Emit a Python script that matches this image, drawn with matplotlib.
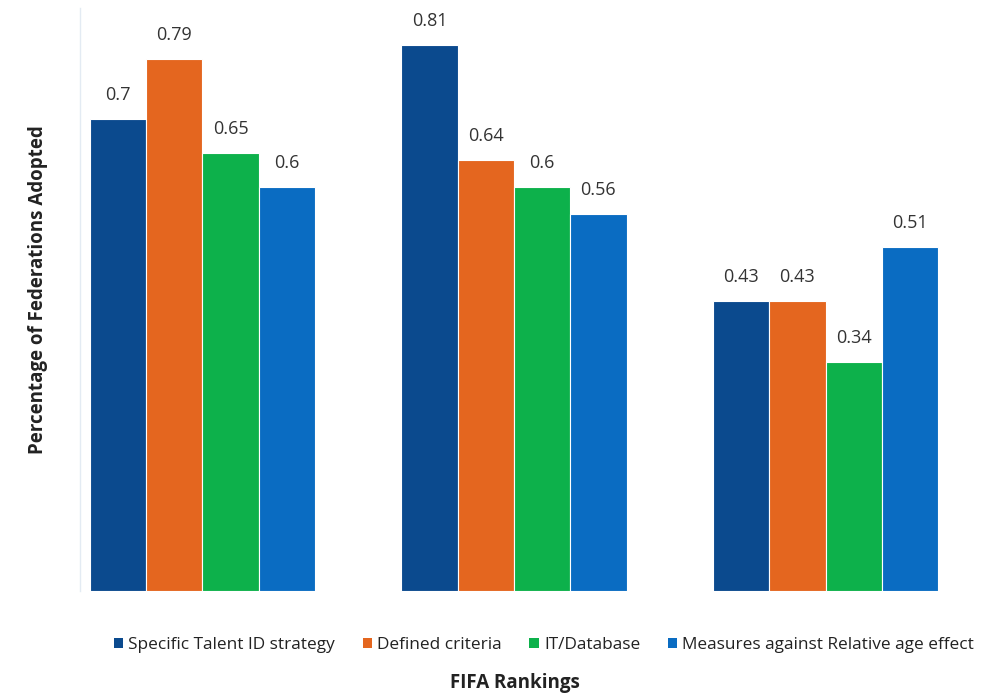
import matplotlib
matplotlib.use("Agg")
import matplotlib.pyplot as plt
import numpy as np

groups = ["Group 1", "Group 2", "Group 3"]
series = ["Specific Talent ID strategy", "Defined criteria", "IT/Database",
          "Measures against Relative age effect"]
values = {
    "Specific Talent ID strategy": [0.70, 0.81, 0.43],
    "Defined criteria": [0.79, 0.64, 0.43],
    "IT/Database": [0.65, 0.60, 0.34],
    "Measures against Relative age effect": [0.60, 0.56, 0.51],
}
labels = {
    "Specific Talent ID strategy": ["0.7", "0.81", "0.43"],
    "Defined criteria": ["0.79", "0.64", "0.43"],
    "IT/Database": ["0.65", "0.6", "0.34"],
    "Measures against Relative age effect": ["0.6", "0.56", "0.51"],
}
colors = ["#0B4A8E", "#E4661F", "#0DB14B", "#0A6CC2"]

plt.rcParams['font.family'] = ['Open Sans', 'DejaVu Sans']

fig = plt.figure(figsize=(9.91, 6.93), dpi=100)
ax = fig.add_axes([80/991, 102/693, 868/991, 583/693])

x = np.arange(len(groups))
w = 0.1806
for i, s in enumerate(series):
    pos = x + (i - 1.5) * w
    bars = ax.bar(pos, values[s], width=w, color=colors[i], edgecolor="white",
                  linewidth=0.8, label=s)
    for b, lab in zip(bars, labels[s]):
        ax.text(b.get_x() + b.get_width() / 2, b.get_height() + 0.0356, lab,
                ha="center", va="center", fontsize=13, color="#333333")

ax.set_xlim(-0.393, 2.393)
ax.set_ylim(0, 583/674)
ax.set_xticks([])
ax.set_yticks([])
for sp in ["top", "right", "bottom"]:
    ax.spines[sp].set_visible(False)
ax.spines["left"].set_color("#e3ebf3")
ax.spines["left"].set_linewidth(1)

fig.text(38/991, 1 - 290/693, "Percentage of Federations Adopted",
         rotation=90, ha="center", va="center", fontsize=13.5,
         fontweight="bold", color="#222222")

leg = fig.legend(loc="center", bbox_to_anchor=(544/991, 1 - 645/693), ncol=4,
                 frameon=False, fontsize=12.4, handlelength=0.55,
                 handleheight=0.55, handletextpad=0.3, columnspacing=1.6)
for t in leg.get_texts():
    t.set_color("#222222")
for h in leg.legend_handles:
    h.set_edgecolor("none")

fig.text(515/991, 1 - 683/693, "FIFA Rankings", ha="center", va="center",
         fontsize=13.5, fontweight="bold", color="#222222")

fig.savefig("out.png", dpi=100, facecolor="white")
